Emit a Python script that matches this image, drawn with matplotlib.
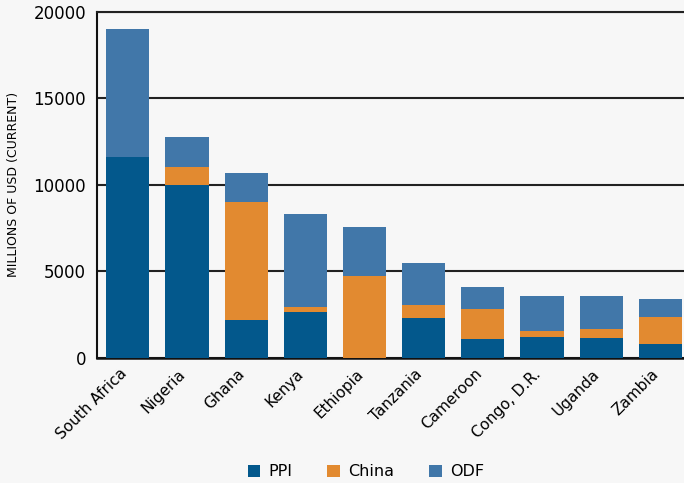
import matplotlib
matplotlib.use('Agg')
import matplotlib.pyplot as plt
import matplotlib.transforms as mtransforms
import numpy as np

countries = ['South Africa', 'Nigeria', 'Ghana', 'Kenya', 'Ethiopia',
             'Tanzania', 'Cameroon', 'Congo, D.R.', 'Uganda', 'Zambia']
# stacked segment values (millions USD)
ppi = [11630, 9990, 2180, 2640, 0, 2290, 1080, 1195, 1140, 790]
china = [0, 1020, 6810, 290, 4720, 750, 1730, 345, 520, 1560]
odf = [7390, 1730, 1680, 5370, 2830, 2430, 1270, 2020, 1900, 1040]

c_ppi = '#03588c'
c_china = '#e28a30'
c_odf = '#4177a9'
bg = '#f7f7f7'

plt.rcParams['font.family'] = ['DejaVu Sans']

fig = plt.figure(figsize=(6.84, 4.83), dpi=100, facecolor=bg)
ax = fig.add_axes([0.142, 0.259, 0.858, 0.717], facecolor=bg)

x = np.arange(len(countries))
w = 0.73
ppi = np.array(ppi)
china = np.array(china)
odf = np.array(odf)
ax.bar(x, ppi, w, color=c_ppi, label='PPI', zorder=3)
ax.bar(x, china, w, bottom=ppi, color=c_china, label='China', zorder=3)
ax.bar(x, odf, w, bottom=ppi + china, color=c_odf, label='ODF', zorder=3)

ax.set_ylim(0, 20000)
ax.set_xlim(-0.52, 9.4)
ax.set_yticks([0, 5000, 10000, 15000, 20000])
ax.yaxis.grid(True, color='#222222', linewidth=1.5, zorder=1)
ax.set_axisbelow(True)
ax.spines['right'].set_visible(False)
ax.spines['top'].set_color('#222222')
ax.spines['top'].set_linewidth(1.5)
ax.spines['left'].set_color('#111111')
ax.spines['left'].set_linewidth(1.5)
ax.spines['bottom'].set_color('#111111')
ax.spines['bottom'].set_linewidth(1.8)
ax.tick_params(axis='y', length=0, labelsize=12, pad=8)
ax.tick_params(axis='x', length=0, labelsize=11, pad=6)
ax.set_xticks(x)
ax.set_xticklabels(countries, rotation=45, ha='right', rotation_mode='anchor')
shift = mtransforms.ScaledTranslation(-9 / 100, 0, fig.dpi_scale_trans)
for lab in ax.get_xticklabels():
    lab.set_transform(lab.get_transform() + shift)
ax.set_ylabel('MILLIONS OF USD (CURRENT)', fontsize=9, labelpad=10)

fig.legend(loc='center', bbox_to_anchor=(0.535, 0.023), ncol=3, frameon=False,
           fontsize=11.5, handlelength=0.8, handleheight=0.8, columnspacing=2.2,
           handletextpad=0.5, facecolor=bg)

fig.savefig('out.png', dpi=100, facecolor=bg)
